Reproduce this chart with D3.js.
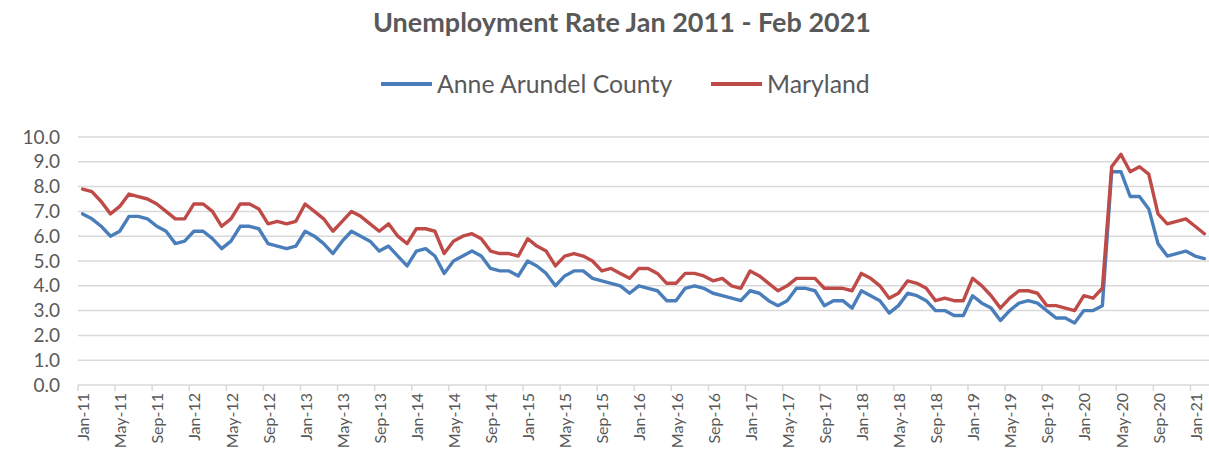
<!DOCTYPE html>
<html>
<head>
<meta charset="utf-8">
<script src="https://cdn.jsdelivr.net/npm/d3@7"></script>
<style>
  html, body { margin: 0; padding: 0; background: #ffffff; }
  svg { display: block; }
  text { font-family: Lato, "Open Sans", sans-serif; fill: #595959; }
</style>
</head>
<body>
<svg id="chart" width="1209" height="468"></svg>
<script>
// Monthly categories, Jan 2011 through Feb 2021
const months = d3.timeMonth.range(new Date(2011, 0, 1), new Date(2021, 2, 1))
  .map(d3.timeFormat("%b-%y"));

// Unemployment rate (%), Anne Arundel County
const anneArundel = [
  6.9, 6.7, 6.4, 6.0, 6.2, 6.8, 6.8, 6.7, 6.4, 6.2, 5.7, 5.8,
  6.2, 6.2, 5.9, 5.5, 5.8, 6.4, 6.4, 6.3, 5.7, 5.6, 5.5, 5.6,
  6.2, 6.0, 5.7, 5.3, 5.8, 6.2, 6.0, 5.8, 5.4, 5.6, 5.2, 4.8,
  5.4, 5.5, 5.2, 4.5, 5.0, 5.2, 5.4, 5.2, 4.7, 4.6, 4.6, 4.4,
  5.0, 4.8, 4.5, 4.0, 4.4, 4.6, 4.6, 4.3, 4.2, 4.1, 4.0, 3.7,
  4.0, 3.9, 3.8, 3.4, 3.4, 3.9, 4.0, 3.9, 3.7, 3.6, 3.5, 3.4,
  3.8, 3.7, 3.4, 3.2, 3.4, 3.9, 3.9, 3.8, 3.2, 3.4, 3.4, 3.1,
  3.8, 3.6, 3.4, 2.9, 3.2, 3.7, 3.6, 3.4, 3.0, 3.0, 2.8, 2.8,
  3.6, 3.3, 3.1, 2.6, 3.0, 3.3, 3.4, 3.3, 3.0, 2.7, 2.7, 2.5,
  3.0, 3.0, 3.2, 8.6, 8.6, 7.6, 7.6, 7.1, 5.7, 5.2, 5.3, 5.4,
  5.2, 5.1
];

// Unemployment rate (%), Maryland
const maryland = [
  7.9, 7.8, 7.4, 6.9, 7.2, 7.7, 7.6, 7.5, 7.3, 7.0, 6.7, 6.7,
  7.3, 7.3, 7.0, 6.4, 6.7, 7.3, 7.3, 7.1, 6.5, 6.6, 6.5, 6.6,
  7.3, 7.0, 6.7, 6.2, 6.6, 7.0, 6.8, 6.5, 6.2, 6.5, 6.0, 5.7,
  6.3, 6.3, 6.2, 5.3, 5.8, 6.0, 6.1, 5.9, 5.4, 5.3, 5.3, 5.2,
  5.9, 5.6, 5.4, 4.8, 5.2, 5.3, 5.2, 5.0, 4.6, 4.7, 4.5, 4.3,
  4.7, 4.7, 4.5, 4.1, 4.1, 4.5, 4.5, 4.4, 4.2, 4.3, 4.0, 3.9,
  4.6, 4.4, 4.1, 3.8, 4.0, 4.3, 4.3, 4.3, 3.9, 3.9, 3.9, 3.8,
  4.5, 4.3, 4.0, 3.5, 3.7, 4.2, 4.1, 3.9, 3.4, 3.5, 3.4, 3.4,
  4.3, 4.0, 3.6, 3.1, 3.5, 3.8, 3.8, 3.7, 3.2, 3.2, 3.1, 3.0,
  3.6, 3.5, 3.9, 8.8, 9.3, 8.6, 8.8, 8.5, 6.9, 6.5, 6.6, 6.7,
  6.4, 6.1
];

const yTicks = [0, 1, 2, 3, 4, 5, 6, 7, 8, 9, 10];
const labelEvery = 4;

const series = [
  { name: "Anne Arundel County", values: anneArundel, color: "#4a7ebb" },
  { name: "Maryland", values: maryland, color: "#be4b48" }
];

const svg = d3.select("#chart");
const plot = { left: 78, right: 1209, top: 137, bottom: 385 };

const x = d3.scaleBand()
  .domain(d3.range(months.length))
  .range([plot.left, plot.right])
  .paddingInner(0).paddingOuter(0);
const bw = x.bandwidth();
const cx = i => x(i) + bw / 2;

const y = d3.scaleLinear().domain([0, 10]).range([plot.bottom, plot.top]);

// Title
svg.append("text")
  .attr("x", 622).attr("y", 32)
  .attr("text-anchor", "middle")
  .style("font-size", "27px").style("font-weight", "bold")
  .text("Unemployment Rate Jan 2011 - Feb 2021");

// Legend
const legendItems = [
  { s: series[0], x: 381 },
  { s: series[1], x: 711 }
];
legendItems.forEach(item => {
  svg.append("line")
    .attr("x1", item.x).attr("x2", item.x + 51)
    .attr("y1", 84).attr("y2", 84)
    .attr("stroke", item.s.color).attr("stroke-width", 4);
  svg.append("text")
    .attr("x", item.x + 56).attr("y", 93)
    .style("font-size", "24.8px")
    .text(item.s.name);
});

// Horizontal gridlines
svg.append("g")
  .selectAll("line")
  .data(yTicks)
  .join("line")
  .attr("x1", plot.left).attr("x2", plot.right)
  .attr("y1", d => y(d)).attr("y2", d => y(d))
  .attr("stroke", "#d9d9d9").attr("stroke-width", 1.5);

// Y axis labels
svg.append("g")
  .selectAll("text")
  .data(yTicks)
  .join("text")
  .attr("x", 60).attr("y", d => y(d))
  .attr("dy", "0.35em")
  .attr("text-anchor", "end")
  .style("font-size", "19px")
  .text(d => d3.format(".1f")(d));

// Category tick marks between groups of months
const tickIdx = d3.range(0, months.length + 1, labelEvery);
svg.append("g")
  .selectAll("line")
  .data(tickIdx)
  .join("line")
  .attr("x1", i => plot.left + i * bw).attr("x2", i => plot.left + i * bw)
  .attr("y1", plot.bottom).attr("y2", plot.bottom + 6)
  .attr("stroke", "#d9d9d9").attr("stroke-width", 1.5);

// Rotated month labels
svg.append("g")
  .selectAll("text")
  .data(d3.range(0, months.length, labelEvery))
  .join("text")
  .attr("transform", i => `translate(${cx(i) + 1},${plot.bottom + 8}) rotate(-90)`)
  .attr("dy", "0.35em")
  .attr("text-anchor", "end")
  .style("font-size", "16px")
  .text(i => months[i]);

// Series lines
const line = d3.line()
  .x((d, i) => cx(i))
  .y(d => y(d));

svg.append("g")
  .selectAll("path")
  .data(series)
  .join("path")
  .attr("d", d => line(d.values))
  .attr("fill", "none")
  .attr("stroke", d => d.color)
  .attr("stroke-width", 3.4)
  .attr("stroke-linejoin", "round")
  .attr("stroke-linecap", "round");
</script>
</body>
</html>
